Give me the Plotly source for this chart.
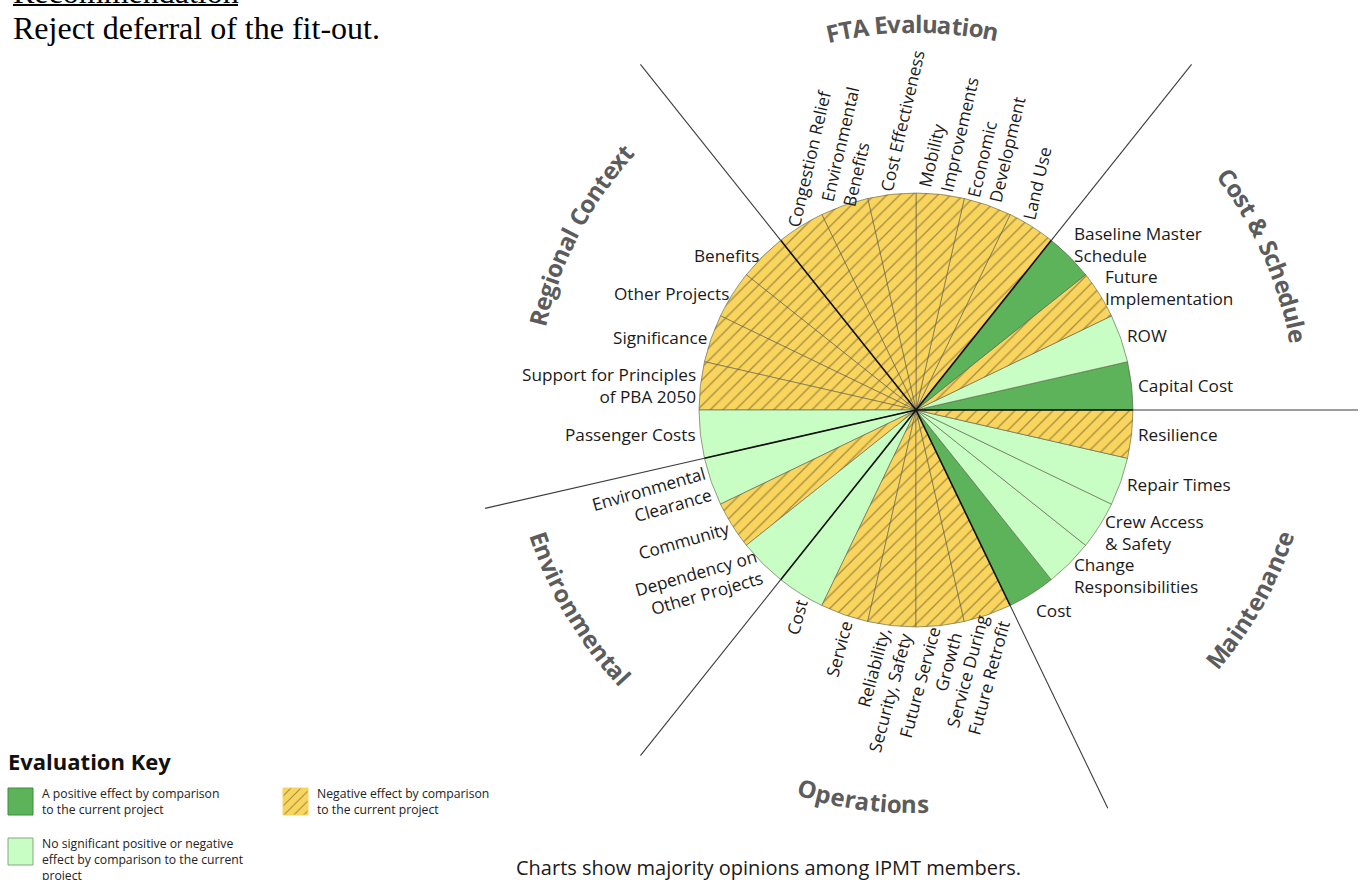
import math
import plotly.graph_objects as go

# ---------------- data ----------------
sections = ["Cost & Schedule", "FTA Evaluation", "Regional Context",
            "Environmental", "Operations", "Maintenance"]
section_sizes = [4, 6, 5, 3, 5, 5]
section_label_style = ["right", "up", "left", "env", "down", "right"]

criteria = [
    "Capital Cost", "ROW", "Future<br>Implementation", "Baseline Master<br>Schedule",
    "Land Use", "Economic<br>Development", "Mobility<br>Improvements", "Cost Effectiveness",
    "Environmental<br>Benefits", "Congestion Relief",
    "Benefits", "Other Projects", "Significance", "Support for Principles<br>of PBA 2050",
    "Passenger Costs",
    "Environmental<br>Clearance", "Community", "Dependency on<br>Other Projects",
    "Cost", "Service", "Reliability,<br>Security, Safety", "Future Service<br>Growth",
    "Service During<br>Future Retrofit",
    "Cost", "Change<br>Responsibilities", "Crew Access<br>& Safety", "Repair Times", "Resilience",
]
ratings = [
    "positive", "neutral", "negative", "positive",
    "negative", "negative", "negative", "negative", "negative", "negative",
    "negative", "negative", "negative", "negative", "neutral",
    "neutral", "negative", "neutral",
    "neutral", "negative", "negative", "negative", "negative",
    "positive", "neutral", "neutral", "neutral", "negative",
]
weights = [1, 1, 1, 1, 1, 1, 1, 1, 1, 1, 1, 1, 1, 1, 1, 1, 1, 1, 1, 1, 1, 1, 1, 1, 1, 1, 1, 1]

rating_order = ["positive", "negative", "neutral"]
rating_colors = {"positive": "#5cb35a", "neutral": "#c8fdc3", "negative": "#f9d55e"}
rating_border = {"positive": "#3f8c3d", "neutral": "#86a883", "negative": "#f9d55e"}
rating_shape = {"positive": "", "neutral": "", "negative": "/"}
rating_text = {
    "positive": "A positive effect by comparison<br>to the current project",
    "negative": "Negative effect by comparison<br>to the current project",
    "neutral": "No significant positive or negative<br>effect by comparison to the current<br>project",
}

# title placement (angle of centre in degrees, radius, side)
title_angles = [24.0, 90.5, 152.5, 210.5, 262.3, 330.5]
title_radius = [389, 387, 389, 397, 394, 389]
title_side = ["top", "top", "top", "bottom", "bottom", "bottom"]

caption = "Charts show majority opinions among IPMT members."
rec_title = "Recommendation"
rec_text = "Reject deferral of the fit-out."

# ---------------- layout constants ----------------
W, H = 1364, 880
CX, CY, R = 916, 410, 217
FONT = "Open Sans"

REG = {
    'A': .63, 'B': .65, 'C': .63, 'D': .73, 'E': .56, 'F': .52, 'G': .72, 'H': .74, 'I': .3,
    'J': .27, 'K': .6, 'L': .52, 'M': .9, 'N': .76, 'O': .78, 'P': .6, 'Q': .78, 'R': .62,
    'S': .55, 'T': .55, 'U': .73, 'V': .59, 'W': .93, 'X': .57, 'Y': .55, 'Z': .56,
    'a': .556, 'b': .613, 'c': .48, 'd': .613, 'e': .561, 'f': .336, 'g': .548, 'h': .614,
    'i': .244, 'j': .244, 'k': .53, 'l': .244, 'm': .93, 'n': .614, 'o': .604, 'p': .613,
    'q': .613, 'r': .41, 's': .477, 't': .344, 'u': .614, 'v': .5, 'w': .787, 'x': .52,
    'y': .5, 'z': .47, ' ': .26, ',': .25, '.': .266, '&': .7, '-': .32,
}
BOLD = {
    'a': .59, 'c': .494, 'd': .617, 'e': .591, 'g': .551, 'h': .648, 'i': .297, 'l': .297,
    'm': .973, 'n': .648, 'o': .613, 'p': .617, 'r': .447, 's': .495, 't': .422, 'u': .648,
    'v': .563, 'x': .568, ' ': .26, '&': .789, 'A': .677, 'C': .635, 'E': .55, 'F': .531,
    'M': .864, 'O': .76, 'R': .645, 'S': .544, 'T': .554,
}


def text_w(s, size, table=REG):
    return max(sum(table.get(ch, 0.56) for ch in line) for line in s.split("<br>")) * size


def polar(r, ang):
    a = math.radians(ang)
    return CX + r * math.cos(a), CY - r * math.sin(a)


fig = go.Figure()

# ---------------- pie ----------------
section_of = []
style_of = []
for sec, size, st in zip(sections, section_sizes, section_label_style):
    section_of += [sec] * size
    style_of += [st] * size

total = sum(weights)
fig.add_trace(go.Pie(
    labels=[f"{s}: {c.replace('<br>', ' ')}" for s, c in zip(section_of, criteria)],
    values=weights,
    sort=False,
    direction="counterclockwise",
    rotation=90 - 360 * weights[0] / total,
    marker=dict(
        colors=[rating_colors[r] for r in ratings],
        line=dict(color="#5a5a4a", width=0.6),
        pattern=dict(shape=[rating_shape[r] for r in ratings], fillmode="overlay",
                     fgcolor="#4f4528", size=9, solidity=0.15),
    ),
    textinfo="none",
    hoverinfo="label",
    showlegend=False,
    domain=dict(x=[(CX - R) / W, (CX + R) / W], y=[(H - CY - R) / H, (H - CY + R) / H]),
))

# ---------------- section boundary lines ----------------
shapes = []
cum = 0
for size in section_sizes:
    ang = 360 * sum(weights[:cum]) / total
    x0, y0 = polar(0, ang)
    x1, y1 = polar(R, ang)
    x2, y2 = polar(442, ang)
    shapes.append(dict(type="line", xref="x", yref="y", x0=x0, y0=y0, x1=x1, y1=y1,
                       line=dict(color="#111111", width=1.6), layer="above"))
    shapes.append(dict(type="line", xref="x", yref="y", x0=x1, y0=y1, x1=x2, y1=y2,
                       line=dict(color="#3c3c3c", width=1.1), layer="above"))
    cum += size

# ---------------- slice labels ----------------
annotations = []
LS = 17.2
acc = 0
for c, st, w in zip(criteria, style_of, weights):
    mid = 360 * (acc + w / 2) / total
    acc += w
    tw = text_w(c, LS)
    base = dict(text=c, showarrow=False, font=dict(family=FONT, size=LS, color="#1a1a1a"),
                xref="x", yref="y")
    s = math.sin(math.radians(mid))
    if st == "right":
        x, y = polar(R + 4, mid)
        y -= 18 * s * abs(s)
        base.update(x=x, y=y, xanchor="left", yanchor="middle", align="left")
    elif st == "left":
        x, y = polar(R + 2, mid)
        base.update(x=x, y=y, xanchor="right", yanchor="middle", align="right")
    elif st == "up":
        ta = 77
        x, y = polar(R + 4, mid + 1.5)
        ux, uy = math.cos(math.radians(ta)), -math.sin(math.radians(ta))
        base.update(x=x + ux * tw / 2, y=y + uy * tw / 2, xanchor="center", yanchor="middle",
                    align="left", textangle=-ta)
    elif st == "down":
        ta = 75
        x, y = polar(R + 5, mid + 1.0)
        ux, uy = math.cos(math.radians(ta)), -math.sin(math.radians(ta))
        base.update(x=x - ux * tw / 2, y=y - uy * tw / 2, xanchor="center", yanchor="middle",
                    align="right", textangle=-ta)
    elif st == "env":
        ta = 16
        x, y = polar(R + 4, mid)
        ux, uy = math.cos(math.radians(ta)), -math.sin(math.radians(ta))
        base.update(x=x - ux * tw / 2, y=y - uy * tw / 2, xanchor="center", yanchor="middle",
                    align="right", textangle=-ta)
    annotations.append(base)

# ---------------- curved section titles ----------------
TS = 24
for name, th, rr, side in zip(sections, title_angles, title_radius, title_side):
    widths = [BOLD.get(ch, 0.6) * TS for ch in name]
    L = sum(widths)
    pos = 0
    for ch, cw in zip(name, widths):
        centre = pos + cw / 2 - L / 2
        pos += cw
        if ch == " ":
            continue
        d = math.degrees(centre / rr)
        if side == "top":
            ang = th - d
            tang = 90 - ang
        else:
            ang = th + d
            tang = -(ang + 90)
        while tang <= -180:
            tang += 360
        while tang > 180:
            tang -= 360
        x, y = polar(rr, ang)
        annotations.append(dict(text=f"<b>{ch}</b>", x=x, y=y, xref="x", yref="y",
                                showarrow=False, textangle=tang, xanchor="center",
                                yanchor="middle",
                                font=dict(family=FONT, size=TS, color="#5c5c5c")))

# ---------------- evaluation key ----------------
annotations.append(dict(text="<b>Evaluation Key</b>", x=6, y=761, xref="x", yref="y",
                        showarrow=False, xanchor="left", yanchor="middle",
                        font=dict(family=FONT, size=22, color="#111111")))
key_pos = {"positive": (8, 788), "negative": (283, 788), "neutral": (8, 838)}
for r in rating_order:
    x0, y0 = key_pos[r]
    x1, y1 = x0 + 25, y0 + 27
    fig.add_trace(go.Scatter(
        x=[x0, x1, x1, x0, x0], y=[y0, y0, y1, y1, y0], mode="lines", fill="toself",
        fillcolor=rating_colors[r], line=dict(color=rating_border[r], width=1),
        fillpattern=dict(shape=rating_shape[r], fillmode="overlay", fgcolor="#4f4528",
                         size=7, solidity=0.15, bgcolor=rating_colors[r]) if rating_shape[r] else None,
        hoverinfo="skip", showlegend=False,
    ))
    annotations.append(dict(text=rating_text[r], x=x0 + 32, y=y0 - 5, xref="x", yref="y",
                            showarrow=False, xanchor="left", yanchor="top", align="left",
                            font=dict(family=FONT, size=12.2, color="#222222")))

# ---------------- caption and recommendation ----------------
annotations.append(dict(text=caption, x=768, y=867, xref="x", yref="y", showarrow=False,
                        xanchor="center", yanchor="middle",
                        font=dict(family=FONT, size=20, color="#1a1a1a")))
annotations.append(dict(text=rec_text, x=11, y=28, xref="x", yref="y", showarrow=False,
                        xanchor="left", yanchor="middle",
                        font=dict(family="Liberation Serif", size=32, color="#000000")))
annotations.append(dict(text=rec_title, x=11, y=12, xref="x", yref="y", showarrow=False,
                        xanchor="left", yanchor="bottom",
                        font=dict(family="Liberation Serif", size=32, color="#000000")))
shapes.append(dict(type="line", xref="x", yref="y", x0=13, y0=5, x1=238, y1=5,
                   line=dict(color="#000000", width=2)))

fig.update_layout(
    width=W, height=H, margin=dict(l=0, r=0, t=0, b=0),
    paper_bgcolor="white", plot_bgcolor="white", showlegend=False,
    xaxis=dict(range=[0, W], visible=False, fixedrange=True, domain=[0, 1]),
    yaxis=dict(range=[H, 0], visible=False, fixedrange=True, domain=[0, 1]),
    shapes=shapes, annotations=annotations,
)

fig.write_html("out.html", config={"displayModeBar": False},
               post_script="document.body.style.margin='0';document.body.style.overflow='hidden';")
